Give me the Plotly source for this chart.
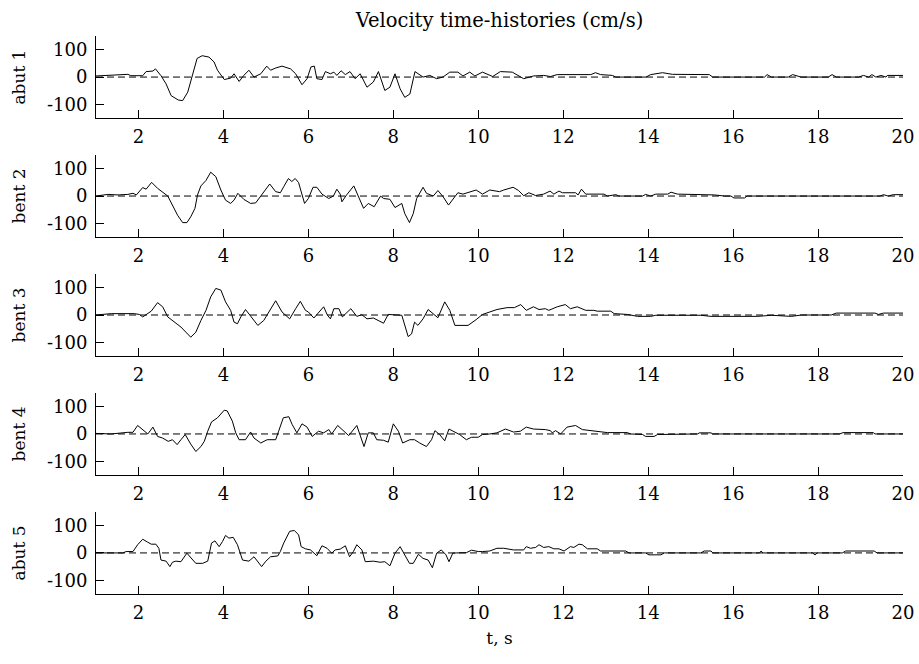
import plotly.graph_objects as go
from plotly.subplots import make_subplots

title_text = "Velocity time-histories (cm/s)"
station_names = ["abut 1", "bent 2", "bent 3", "bent 4", "abut 5"]
x_ticks = [2, 4, 6, 8, 10, 12, 14, 16, 18, 20]
y_ticks = [-100, 0, 100]
y_tick_labels = ["-100", "0", "100"]

abut1_t = [1.0, 1.2, 1.75, 1.82, 2.1, 2.18, 2.34, 2.4, 2.53, 2.65, 2.77, 2.94, 3.04, 3.16, 3.27, 3.38, 3.5, 3.66, 3.78, 3.86,
           4.02, 4.17, 4.25, 4.37, 4.48, 4.6, 4.72, 4.88, 5.02, 5.11, 5.23, 5.38, 5.58, 5.7, 5.85, 5.97, 6.06, 6.14, 6.2, 6.32,
           6.4, 6.52, 6.6, 6.67, 6.77, 6.87, 6.98, 7.1, 7.22, 7.38, 7.53, 7.65, 7.8, 7.92, 8.04, 8.16, 8.27, 8.39, 8.51, 8.7,
           8.86, 9.02, 9.17, 9.33, 9.52, 9.64, 9.8, 9.92, 10.1, 10.34, 10.52, 10.8, 11.07, 11.3, 11.54, 11.7, 11.86, 12.65, 12.76, 12.88,
           13.16, 13.24, 13.95, 14.06, 14.34, 14.57, 15.44, 15.52, 16.74, 16.8, 16.9, 17.3, 17.4, 17.6, 18.24, 18.33, 18.43, 18.95, 19.07, 19.19,
           19.27, 19.36, 19.48, 19.6, 19.63, 20.0]
abut1_v = [4, 5, 10, 5, 5, 20, 22, 30, 5, -25, -68, -84, -86, -55, 6, 68, 78, 73, 55, 25,
           -9, -4, 12, -16, 6, 25, 0, 12, 40, 25, 33, 40, 30, 12, -28, -6, 37, 40, -6, -9,
           20, 12, 18, 6, 23, 9, 20, -6, 12, -37, -18, 20, -49, -37, 12, -43, -74, -62, 20, 0,
           6, -6, 0, 18, 18, 4, 18, 4, 18, 2, 20, 18, -6, 4, 6, 2, 9, 9, 16, 9,
           6, 0, 0, 9, 16, 10, 9, 0, 0, 9, 0, 0, 9, 0, 0, 9, 0, 0, 6, 0,
           9, 0, 6, 0, 6, 6]

bent2_t = [1.0, 1.28, 1.52, 1.75, 1.87, 1.95, 2.1, 2.18, 2.31, 2.45, 2.69, 2.8, 2.92, 3.04, 3.14, 3.23, 3.33, 3.39, 3.47, 3.59,
           3.7, 3.82, 3.94, 4.05, 4.17, 4.25, 4.34, 4.48, 4.64, 4.76, 4.88, 5.0, 5.09, 5.23, 5.34, 5.42, 5.53, 5.61, 5.69, 5.77,
           5.83, 5.91, 6.0, 6.11, 6.2, 6.32, 6.48, 6.59, 6.67, 6.75, 6.79, 6.9, 7.07, 7.18, 7.3, 7.41, 7.55, 7.7, 7.77, 7.92,
           8.04, 8.2, 8.27, 8.38, 8.47, 8.55, 8.7, 8.78, 8.94, 9.05, 9.17, 9.3, 9.4, 9.52, 9.64, 9.8, 9.95, 10.1, 10.27, 10.5,
           10.6, 10.82, 10.95, 11.07, 11.19, 11.35, 11.54, 11.69, 11.78, 11.9, 11.98, 12.29, 12.35, 12.43, 12.53, 12.96, 13.04, 13.24, 13.31, 13.87,
           13.94, 14.06, 14.18, 14.46, 14.54, 14.69, 15.56, 15.8, 15.95, 16.02, 16.27, 16.33, 19.46, 19.54, 19.65, 19.77, 20.0]
bent2_v = [0, 6, 4, 6, 10, 4, 31, 25, 50, 28, 0, -33, -70, -97, -97, -76, -45, 4, 37, 57,
           87, 71, 22, -15, -27, -15, 10, -12, -27, -25, 0, 22, 44, 16, 12, 34, 64, 53, 64, 49,
           16, -27, -9, 32, 32, 7, -9, 0, 25, 7, -21, 4, 37, -2, -45, -27, -39, 0, -9, -12,
           -42, -27, -64, -97, -64, -9, 32, 10, 0, 20, -2, -33, -12, 12, 7, 16, 22, 7, 22, 16,
           22, 32, 20, 1, 12, 2, 7, 18, 7, 18, 12, 12, 4, 25, 7, 7, 0, 5, 0, 0,
           6, 0, 7, 7, 14, 7, 4, 0, 0, -7, -7, 0, 0, 5, 0, 5, 5]

bent3_t = [1.0, 1.36, 1.9, 2.02, 2.1, 2.18, 2.3, 2.45, 2.57, 2.69, 2.84, 3.0, 3.23, 3.35, 3.47, 3.59, 3.7, 3.82, 3.94, 4.05,
           4.17, 4.25, 4.33, 4.41, 4.52, 4.68, 4.81, 4.95, 5.11, 5.23, 5.38, 5.56, 5.7, 5.81, 5.93, 6.0, 6.13, 6.25, 6.36, 6.45,
           6.52, 6.6, 6.72, 6.8, 7.0, 7.14, 7.26, 7.38, 7.53, 7.77, 7.88, 8.2, 8.27, 8.35, 8.43, 8.5, 8.58, 8.7, 8.82, 8.94,
           9.05, 9.21, 9.33, 9.45, 9.56, 9.76, 9.95, 10.1, 10.27, 10.44, 10.68, 10.85, 11.0, 11.13, 11.3, 11.43, 11.58, 11.66, 11.86, 12.05,
           12.17, 12.33, 12.53, 12.72, 12.8, 13.12, 13.2, 13.51, 13.75, 14.06, 14.18, 14.69, 15.24, 15.48, 16.58, 16.9, 17.37, 17.61, 18.31, 18.43,
           19.34, 19.42, 19.54, 20.0]
bent3_v = [0, 5, 5, 2, -7, 2, 14, 45, 30, -7, -26, -44, -81, -63, -20, 17, 66, 97, 91, 48,
           17, -26, -32, -7, 20, -10, -38, -20, 23, 52, 11, -14, 23, 50, 17, 11, -11, 11, 30, -1,
           -14, 23, 23, -7, 23, -5, 1, -14, -11, -30, 2, -1, -38, -79, -69, -26, -38, -14, 20, 5,
           -10, 48, 17, -38, -38, -38, -17, 2, 11, 20, 27, 27, 38, 17, 30, 20, 23, 17, 30, 38,
           23, 30, 17, 17, 14, 14, 5, 2, -5, -5, -1, 0, -1, -5, -5, -1, -5, 0, 0, 7,
           7, 2, 7, 7]

bent4_t = [1.0, 1.24, 1.36, 1.75, 1.87, 1.98, 2.14, 2.22, 2.34, 2.45, 2.57, 2.7, 2.8, 2.91, 3.0, 3.1, 3.23, 3.35, 3.47, 3.55,
           3.63, 3.72, 3.86, 4.02, 4.09, 4.21, 4.29, 4.37, 4.52, 4.64, 4.72, 4.88, 5.03, 5.23, 5.3, 5.41, 5.54, 5.62, 5.73, 5.85,
           5.97, 6.09, 6.24, 6.36, 6.48, 6.55, 6.69, 6.83, 6.95, 7.14, 7.26, 7.31, 7.41, 7.53, 7.61, 7.77, 7.88, 8.0, 8.12, 8.22,
           8.39, 8.5, 8.62, 8.78, 8.9, 8.98, 9.09, 9.21, 9.31, 9.45, 9.56, 9.72, 9.84, 10.0, 10.1, 10.27, 10.44, 10.64, 10.83, 10.99,
           11.13, 11.3, 11.46, 11.58, 11.7, 11.74, 11.82, 11.94, 12.09, 12.29, 12.45, 12.8, 13.04, 13.51, 13.59, 13.87, 13.94, 14.14, 14.22, 15.17,
           15.2, 15.48, 15.52, 18.51, 18.59, 19.3, 19.34, 20.0]
bent4_v = [2, 2, 0, 6, 6, 31, 10, 0, 25, -9, -15, -27, -21, -39, -21, -2, -37, -64, -46, -27,
           10, 44, 59, 87, 84, 47, 4, -21, -21, 7, -15, -33, -21, -21, 10, 59, 63, 34, 4, 37,
           25, -9, 10, 4, 16, 0, 31, 12, -6, 31, -27, -46, 4, 4, -21, -23, -30, 37, 10, -33,
           -21, -21, -33, -46, -21, 12, -2, -25, 18, 7, -2, -21, -12, -12, -2, 0, 4, 18, 7, 10,
           25, 18, 18, 16, 12, 4, 12, 0, 25, 31, 16, 10, 5, 5, 0, -2, -9, -9, -2, 0,
           4, 4, 0, 0, 5, 5, 0, 0]

abut5_t = [1.0, 1.63, 1.71, 1.87, 1.98, 2.1, 2.22, 2.3, 2.41, 2.48, 2.53, 2.65, 2.74, 2.8, 2.88, 3.0, 3.14, 3.23, 3.35, 3.51,
           3.63, 3.72, 3.8, 3.9, 3.98, 4.05, 4.13, 4.23, 4.33, 4.45, 4.6, 4.72, 4.8, 4.9, 5.0, 5.11, 5.28, 5.34, 5.42, 5.56,
           5.67, 5.77, 5.83, 5.93, 6.05, 6.13, 6.2, 6.32, 6.44, 6.55, 6.63, 6.75, 6.87, 6.97, 7.06, 7.14, 7.26, 7.34, 7.53, 7.69,
           7.8, 7.92, 8.04, 8.16, 8.27, 8.38, 8.47, 8.59, 8.7, 8.82, 8.92, 9.02, 9.13, 9.24, 9.31, 9.4, 9.48, 9.72, 9.84, 10.0,
           10.1, 10.27, 10.44, 10.6, 10.83, 11.07, 11.13, 11.23, 11.35, 11.43, 11.54, 11.66, 11.78, 11.9, 12.02, 12.17, 12.25, 12.37, 12.45, 12.57,
           12.8, 12.88, 13.47, 13.55, 13.94, 14.02, 14.3, 14.38, 15.24, 15.32, 15.48, 15.52, 16.62, 16.66, 16.7, 17.87, 17.93, 17.98, 18.57, 18.65,
           19.32, 19.39, 20.0]
abut5_v = [0, 0, 5, 5, 30, 50, 39, 32, 32, 17, -26, -30, -50, -34, -30, -32, -1, -17, -38, -38,
           -30, 36, 44, 23, 42, 64, 54, 57, 30, -26, -30, -14, -32, -50, -30, -14, -11, 5, 36, 79,
           82, 66, 23, 15, 11, -1, -10, 26, 17, -1, 11, 14, 26, -14, 5, 30, 11, -32, -30, -34,
           -32, -47, -1, 23, -7, -38, -38, -5, -20, -26, -54, -1, 11, -7, -32, -1, 0, 1, 10, 5,
           5, 7, 17, 17, 11, 11, 23, 17, 20, 30, 20, 23, 15, 15, 7, 23, 20, 32, 30, 15,
           15, 7, 7, 0, 0, -7, -7, 0, 0, 7, 7, 0, 0, 7, 0, 0, -7, 0, 0, 7,
           7, 0, 0]

series_t = [abut1_t, bent2_t, bent3_t, bent4_t, abut5_t]
series_v = [abut1_v, bent2_v, bent3_v, bent4_v, abut5_v]
t_start, t_end = 1, 20

FONT = "DejaVu Serif"
FS_TICK = 18
FS_TITLE = 19.5
FS_AX = 17
fig = make_subplots(rows=5, cols=1, vertical_spacing=0.066)

for i in range(5):
    r = i + 1
    fig.add_trace(go.Scatter(x=[t_start, t_end], y=[0, 0], mode="lines",
                             line=dict(color="black", width=1, dash="7px,4px"),
                             showlegend=False, hoverinfo="skip"), row=r, col=1)
    fig.add_trace(go.Scatter(x=series_t[i], y=series_v[i], mode="lines",
                             line=dict(color="black", width=1),
                             showlegend=False), row=r, col=1)
    fig.update_xaxes(range=[t_start, t_end], tickvals=x_ticks, ticks="inside", ticklen=8,
                     tickcolor="black", showline=True, linecolor="black", linewidth=1,
                     showgrid=False, zeroline=False, ticklabelstandoff=2, automargin=False,
                     ticklabeloverflow="allow",
                     tickfont=dict(family=FONT, size=FS_TICK, color="black"), row=r, col=1)
    fig.update_yaxes(range=[-150, 150], tickvals=y_ticks, ticktext=y_tick_labels,
                     ticks="inside", ticklen=8,
                     tickcolor="black", showline=True, linecolor="black", linewidth=1,
                     showgrid=False, zeroline=False, ticklabelstandoff=4, automargin=False,
                     tickfont=dict(family=FONT, size=FS_TICK, color="black"),
                     title=dict(text=station_names[i], standoff=16,
                                font=dict(family=FONT, size=FS_AX, color="black")),
                     row=r, col=1)

fig.update_xaxes(title=dict(text="t, s", standoff=10, font=dict(family=FONT, size=FS_AX, color="black")),
                 row=5, col=1)

fig.update_layout(
    width=919, height=664,
    margin=dict(l=96, r=16, t=36, b=70),
    paper_bgcolor="white", plot_bgcolor="white",
    title=dict(text=title_text, x=0.5435, xanchor="center", y=1 - 20 / 664, yanchor="middle",
               font=dict(family=FONT, size=FS_TITLE, color="black")),
    font=dict(family=FONT, size=FS_TICK, color="black"),
)

fig.write_html("out.html", config={"displayModeBar": False},
               post_script="document.body.style.margin='0';document.body.style.overflow='hidden';")
